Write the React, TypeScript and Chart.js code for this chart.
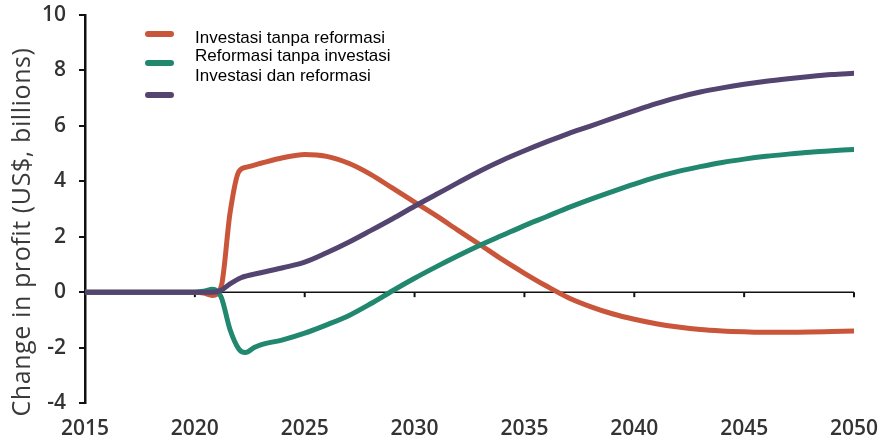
import React, { useEffect, useRef } from "react";
import { Chart, registerables } from "chart.js";

Chart.register(...registerables);

const SERIES_LABELS = [
  "Investasi tanpa reformasi",
  "Reformasi tanpa investasi",
  "Investasi dan reformasi",
];

const ORANGE_X = [2015, 2016, 2017, 2018, 2019, 2020, 2020.4, 2020.8, 2021.2, 2021.6, 2022.0, 2022.4, 2023, 2024, 2025, 2026, 2027, 2028, 2029, 2030, 2031, 2032, 2033, 2034, 2035, 2036, 2037, 2038, 2039, 2040, 2041, 2042, 2043, 2044, 2045, 2046, 2047, 2048, 2049, 2050];
const ORANGE_Y = [0, 0, 0, 0, 0, 0, -0.03, -0.12, 0.2, 2.85, 4.35, 4.52, 4.65, 4.85, 4.97, 4.9, 4.65, 4.25, 3.75, 3.25, 2.75, 2.22, 1.7, 1.17, 0.68, 0.22, -0.2, -0.52, -0.78, -0.98, -1.14, -1.26, -1.35, -1.4, -1.43, -1.45, -1.45, -1.44, -1.42, -1.4];

const TEAL_X = [2015, 2016, 2017, 2018, 2019, 2020, 2020.4, 2020.8, 2021.2, 2021.6, 2022.0, 2022.3, 2022.7, 2023, 2024, 2025, 2026, 2027, 2028, 2029, 2030, 2031, 2032, 2033, 2034, 2035, 2036, 2037, 2038, 2039, 2040, 2041, 2042, 2043, 2044, 2045, 2046, 2047, 2048, 2049, 2050];
const TEAL_Y = [0, 0, 0, 0, 0, 0, 0.03, 0.1, -0.18, -1.35, -2.05, -2.18, -2.0, -1.9, -1.72, -1.48, -1.18, -0.85, -0.42, 0.05, 0.5, 0.92, 1.32, 1.7, 2.05, 2.4, 2.72, 3.05, 3.35, 3.63, 3.9, 4.15, 4.36, 4.53, 4.68, 4.8, 4.9, 4.98, 5.05, 5.1, 5.15];

const PURPLE_X = [2015, 2016, 2017, 2018, 2019, 2020, 2020.8, 2021.2, 2021.6, 2022.1, 2023, 2024, 2025, 2026, 2027, 2028, 2029, 2030, 2031, 2032, 2033, 2034, 2035, 2036, 2037, 2038, 2039, 2040, 2041, 2042, 2043, 2044, 2045, 2046, 2047, 2048, 2049, 2050];
const PURPLE_Y = [0, 0, 0, 0, 0, 0, 0, 0.07, 0.3, 0.52, 0.7, 0.88, 1.08, 1.42, 1.8, 2.22, 2.65, 3.1, 3.53, 3.96, 4.38, 4.76, 5.1, 5.42, 5.72, 5.99, 6.27, 6.54, 6.8, 7.03, 7.22, 7.37, 7.5, 7.61, 7.7, 7.78, 7.85, 7.9];

const X_TICKS = [2015, 2020, 2025, 2030, 2035, 2040, 2045, 2050];
const Y_TICKS = [-4, -2, 0, 2, 4, 6, 8, 10];
const Y_TITLE = "Change in profit (US$, billions)";

const COLORS = ["#C9563A", "#21876F", "#534470"];

function pts(xs: number[], ys: number[]) {
  return xs.map((x, i) => ({ x, y: ys[i] }));
}

export default function App() {
  const ref = useRef<HTMLCanvasElement | null>(null);

  useEffect(() => {
    document.body.style.margin = "0";
    const canvas = ref.current;
    if (!canvas) return;

    const customPlugin = {
      id: "custom",
      beforeDatasetsDraw(chart: any) {
        const { ctx, scales } = chart;
        const xs = scales.x;
        const ys = scales.y;
        const y0 = ys.getPixelForValue(0);
        ctx.save();
        ctx.strokeStyle = "#111";
        ctx.lineWidth = 1.5;
        ctx.beginPath();
        ctx.moveTo(xs.left, y0);
        ctx.lineTo(xs.right, y0);
        ctx.stroke();
        ctx.lineWidth = 2;
        X_TICKS.forEach((t) => {
          if (t === X_TICKS[0]) return;
          const px = xs.getPixelForValue(t);
          ctx.beginPath();
          ctx.moveTo(px, y0);
          ctx.lineTo(px, y0 + 5);
          ctx.stroke();
        });
        ctx.restore();
      },
      afterDraw(chart: any) {
        const { ctx } = chart;
        ctx.save();
        ctx.translate(23, 232);
        ctx.rotate(-Math.PI / 2);
        ctx.fillStyle = "#3a3a3a";
        ctx.font = "25px 'Open Sans'";
        try { (ctx as any).letterSpacing = "0.6px"; } catch (e) {}
        ctx.textAlign = "center";
        ctx.textBaseline = "middle";
        ctx.fillText(Y_TITLE, 0, 0);
        ctx.restore();

        ctx.save();
        const markerY = [34, 63, 95];
        const textY = [43, 61, 81];
        ctx.lineCap = "round";
        ctx.lineWidth = 6;
        COLORS.forEach((c, i) => {
          ctx.strokeStyle = c;
          ctx.beginPath();
          ctx.moveTo(148, markerY[i]);
          ctx.lineTo(171, markerY[i]);
          ctx.stroke();
        });
        ctx.fillStyle = "#000";
        ctx.font = "17px 'Liberation Sans'";
        ctx.textAlign = "left";
        ctx.textBaseline = "alphabetic";
        SERIES_LABELS.forEach((l, i) => {
          ctx.fillText(l, 195, textY[i]);
        });
        ctx.restore();
      },
    };

    const chart = new Chart(canvas, {
      type: "line",
      data: {
        datasets: [
          { label: SERIES_LABELS[0], data: pts(ORANGE_X, ORANGE_Y), borderColor: COLORS[0], order: 2 },
          { label: SERIES_LABELS[1], data: pts(TEAL_X, TEAL_Y), borderColor: COLORS[1], order: 1 },
          { label: SERIES_LABELS[2], data: pts(PURPLE_X, PURPLE_Y), borderColor: COLORS[2], order: 0 },
        ].map((d) => ({
          ...d,
          borderWidth: 5,
          pointRadius: 0,
          fill: false,
          cubicInterpolationMode: "monotone" as const,
          borderCapStyle: "round" as const,
          borderJoinStyle: "round" as const,
        })),
      },
      options: {
        animation: false,
        responsive: false,
        devicePixelRatio: 1,
        layout: { padding: { left: 0, top: 15, right: 24, bottom: 0 } },
        plugins: { legend: { display: false }, tooltip: { enabled: false } },
        scales: {
          x: {
            type: "linear",
            min: 2015,
            max: 2050,
            afterBuildTicks: (s: any) => {
              s.ticks = X_TICKS.map((v) => ({ value: v }));
            },
            afterFit: (s: any) => {
              s.height = 35;
              s.paddingLeft = 0;
              s.paddingRight = 0;
            },
            grid: { display: false, drawTicks: false },
            border: { display: false },
            ticks: {
              padding: 13,
              color: "#333",
              font: { family: "'Open Sans'", size: 21, weight: "600" },
              callback: (v: any) => String(v),
              maxRotation: 0,
              autoSkip: false,
            },
          },
          y: {
            type: "linear",
            min: -4,
            max: 10,
            afterBuildTicks: (s: any) => {
              s.ticks = Y_TICKS.map((v) => ({ value: v }));
            },
            afterFit: (s: any) => {
              s.width = 85;
              s.paddingTop = 0;
              s.paddingBottom = 0;
            },
            grid: { drawOnChartArea: false, drawTicks: true, tickLength: 6, color: "#111", lineWidth: 2 },
            border: { display: true, color: "#111", width: 2.5 },
            ticks: {
              padding: 13,
              color: "#333",
              font: { family: "'Open Sans'", size: 21, weight: "600" },
              callback: (v: any) => String(v),
              autoSkip: false,
            },
          },
        },
      },
      plugins: [customPlugin],
    } as any);

    return () => chart.destroy();
  }, []);

  return (
    <div style={{ position: "absolute", left: 0, top: 0, width: 878, height: 438 }}>
      <canvas ref={ref} width={878} height={438} style={{ width: 878, height: 438 }} />
    </div>
  );
}
